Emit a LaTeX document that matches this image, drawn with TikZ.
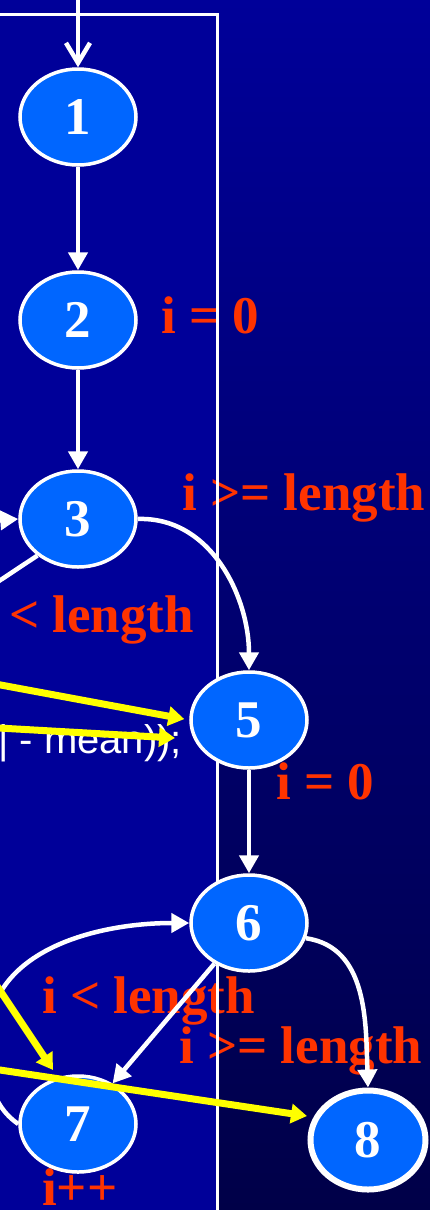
\documentclass[tikz,border=0pt]{standalone}
\usepackage{fontspec}
\setmainfont{Liberation Serif}
\newfontfamily\codefont{Liberation Sans}
\usetikzlibrary{shapes.geometric,arrows.meta}
\definecolor{bgtop}{RGB}{0,0,153}
\definecolor{bgbot}{RGB}{0,0,72}
\definecolor{panelblue}{RGB}{0,0,153}
\definecolor{nodeblue}{RGB}{0,102,255}
\definecolor{lblred}{RGB}{255,51,0}
\definecolor{ylw}{RGB}{255,255,0}
\begin{document}
\begin{tikzpicture}[x=1pt,y=1pt,
  vtx/.style={ellipse, draw=white, fill=nodeblue, line width=3.5pt, minimum width=116pt, minimum height=96pt, inner sep=0pt, text=white, font=\fontsize{53}{53}\selectfont\bfseries},
  lbl/.style={anchor=base west, text=lblred, font=\fontsize{53}{53}\selectfont\bfseries, inner sep=0pt},
  flow/.style={draw=white, line width=4.5pt, -{Triangle[length=18pt,width=19pt]}},
  yarrow/.style={draw=ylw, line width=7pt, -{Triangle[length=16pt,width=19pt]}},
]
\useasboundingbox (0,0) rectangle (430,-1210);
\shade[top color=bgtop, bottom color=bgbot] (0,0) rectangle (430,-1210);
\fill[panelblue] (-10,-14.5) rectangle (217.5,-1220);
% red labels
\node[lbl] (l1) at (161,-333) {i = 0};
\node[lbl] (l2) at (182,-510) {i >= length};
\node[lbl] (l3) at (9,-632) {< length};
\node[lbl] (l4) at (276,-799) {i = 0};
\node[lbl] (l5) at (42,-1013) {i < length};
\node[lbl] (l6) at (179,-1063) {i >= length};
\node[lbl] (l7) at (42,-1205) {i++};
% panel border
\draw[white, line width=2.5pt] (-10,-14.5) -- (217.5,-14.5) -- (217.5,-1220);
% nodes
\node[vtx] (n1) at (78,-117) {1};
\node[vtx] (n2) at (78,-320) {2};
\node[vtx] (n3) at (78,-519) {3};
\node[vtx] (n5) at (249,-720) {5};
\node[vtx] (n6) at (249,-923) {6};
\node[vtx] (n7) at (78,-1124) {7};
\node[vtx, line width=6pt, minimum width=115pt, minimum height=99pt] (n8) at (368,-1140) {8};
% edges
\coordinate (entry) at (78,2);
\draw[white, line width=4.5pt, -{Straight Barb[length=20pt,width=24pt]}] (entry) -- (n1);
\draw[flow] (n1) -- (n2);
\draw[flow] (n2) -- (n3);
\coordinate (from4) at (-10,-521);
\draw[flow] (from4) -- (n3.west);
\coordinate (to4) at (-10,-587);
\draw[white, line width=4.5pt] (n3.222) -- (to4);
\draw[flow] (n3.east) to[out=2,in=90] (n5.north);
\draw[flow] (n5) -- (n6);
\draw[flow] (n6) -- (n7);
\draw[flow] (n6.-15) to[out=-8,in=92] (n8.north);
\coordinate (loopL) at (-12,-1040);
\draw[flow] (n7.west) to[out=145,in=-90] (loopL) to[out=90,in=180] (n6.west);
% code text
\node[anchor=base west, text=white, font=\codefont\fontsize{40}{40}\selectfont, inner sep=0pt] (code) at (-2,-753) {| - mean));};
% yellow arrows
\coordinate (y1s) at (-10,-683);
\draw[yarrow, shorten >=5pt] (y1s) -- (n5.west);
\coordinate (y2s) at (-10,-727.5);
\coordinate (y2e) at (175,-738);
\draw[yarrow] (y2s) -- (y2e);
\coordinate (y3s) at (-7,-980);
\coordinate (y3e) at (53,-1070);
\draw[yarrow] (y3s) -- (y3e);
\coordinate (y4s) at (-10,-1068.5);
\coordinate (y4e) at (307,-1116);
\draw[yarrow] (y4s) -- (y4e);
\end{tikzpicture}
\end{document}
